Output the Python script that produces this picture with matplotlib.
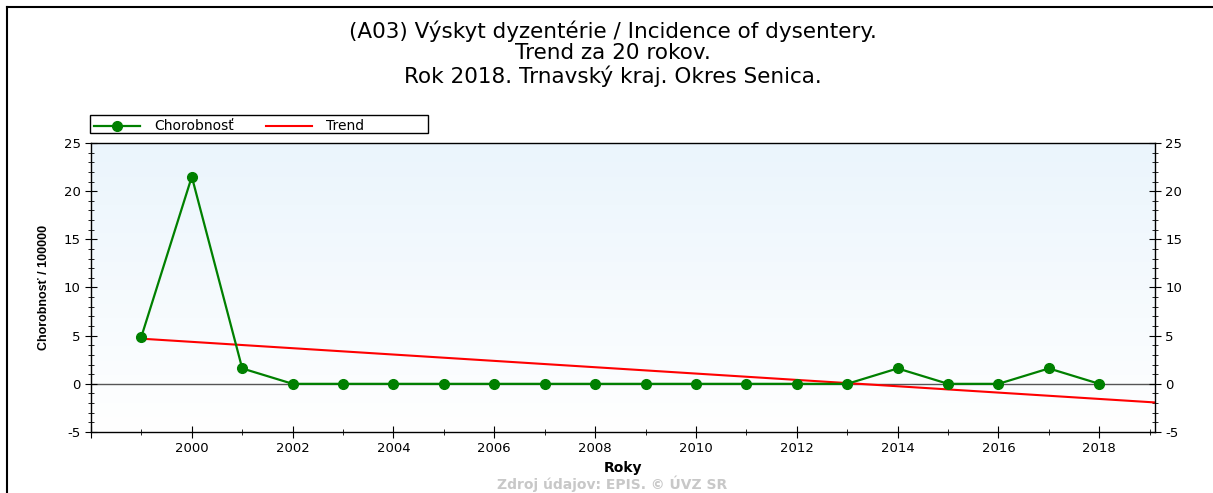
import numpy as np
import matplotlib.pyplot as plt
from matplotlib.lines import Line2D
from matplotlib.patches import Rectangle
from matplotlib.ticker import MultipleLocator, FuncFormatter

plt.rcParams['font.family'] = ['DejaVu Sans']
plt.rcParams['axes.unicode_minus'] = False

years = [1999, 2000, 2001, 2002, 2003, 2004, 2005, 2006, 2007, 2008,
         2009, 2010, 2011, 2012, 2013, 2014, 2015, 2016, 2017, 2018]
incidence = [4.9, 21.5, 1.6, 0, 0, 0, 0, 0, 0, 0,
             0, 0, 0, 0, 0, 1.6, 0, 0, 1.6, 0]

# linear trend over the 20 years, drawn to the right edge
coef = np.polyfit(years, incidence, 1)
trend_x = np.array([1999, 2019.1])
trend_y = np.polyval(coef, trend_x)

fig = plt.figure(figsize=(12.13, 4.93), dpi=100)
ax = fig.add_axes([0.075, 0.1237, 0.877, 0.5863])

# light blue gradient background
grad = np.linspace(1, 0, 256).reshape(-1, 1)
top = np.array([0.92, 0.96, 0.99])
bot = np.array([1.0, 1.0, 1.0])
img = bot + (top - bot) * grad[:, :, None]
ax.imshow(img, extent=[1998, 2019.1, -5, 25], aspect='auto', zorder=0)

ax.axhline(0, color='#555555', linewidth=1, zorder=1)
ax.plot(trend_x, trend_y, color='red', linewidth=1.5, zorder=2)
ax.plot(years, incidence, color='green', linewidth=1.6, marker='o',
        markersize=7, zorder=3)

ax.set_xlim(1998, 2019.1)
ax.set_ylim(-5, 25)
ax.xaxis.set_major_locator(MultipleLocator(2))
ax.xaxis.set_minor_locator(MultipleLocator(1))
ax.xaxis.set_major_formatter(FuncFormatter(lambda v, p: '' if v < 1999 else '%d' % v))
ax.yaxis.set_major_locator(MultipleLocator(5))
ax.yaxis.set_minor_locator(MultipleLocator(1))
ax.tick_params(axis='both', which='both', direction='inout', labelsize=9.5)
ax.tick_params(axis='y', which='both', left=True, right=True, labelright=True)
ax.tick_params(which='major', length=8)
ax.tick_params(which='minor', length=5)
ax.tick_params(axis='x', which='both', top=False)
for s in ax.spines.values():
    s.set_color('black')
    s.set_linewidth(1)

ax.set_xlabel('Roky', fontsize=10, fontweight='bold', labelpad=4)
ax.set_ylabel('Chorobnosť / 100000', fontsize=9, fontweight='bold', labelpad=10,
              family=['Liberation Sans', 'DejaVu Sans'])

handles = [Line2D([], [], color='green', linewidth=1.6, marker='o', markersize=7),
           Line2D([], [], color='red', linewidth=1.5)]
leg = ax.legend(handles, ['Chorobnosť', 'Trend'], ncol=2, fontsize=10,
                loc='lower left', bbox_to_anchor=(0.002, 1.028), frameon=False,
                borderpad=0.1, handlelength=3.3, handletextpad=1.0,
                columnspacing=2.3, borderaxespad=0)
ax.add_patch(Rectangle((-0.001, 1.035), 0.318, 0.063, transform=ax.transAxes,
                       fill=False, edgecolor='black', linewidth=1, clip_on=False))

title_kw = dict(ha='center', va='center', fontsize=15.5)
fig.text(0.505, 0.937, '(A03) Výskyt dyzentérie / Incidence of dysentery.', **title_kw)
fig.text(0.505, 0.892, 'Trend za 20 rokov.', **title_kw)
fig.text(0.505, 0.845, 'Rok 2018. Trnavský kraj. Okres Senica.', **title_kw)
fig.text(0.505, 0.002, 'Zdroj údajov: EPIS. © ÚVZ SR', ha='center', va='bottom',
         fontsize=10, fontweight='bold', color='#c8c8c8')

# outer frame (top and left edges)
fig.add_artist(Line2D([7 / 1213, 1], [1 - 7 / 493, 1 - 7 / 493],
                      transform=fig.transFigure, color='black', linewidth=1.5))
fig.add_artist(Line2D([7 / 1213, 7 / 1213], [0, 1 - 7 / 493],
                      transform=fig.transFigure, color='black', linewidth=1.5))

fig.savefig('out.png', dpi=100)
